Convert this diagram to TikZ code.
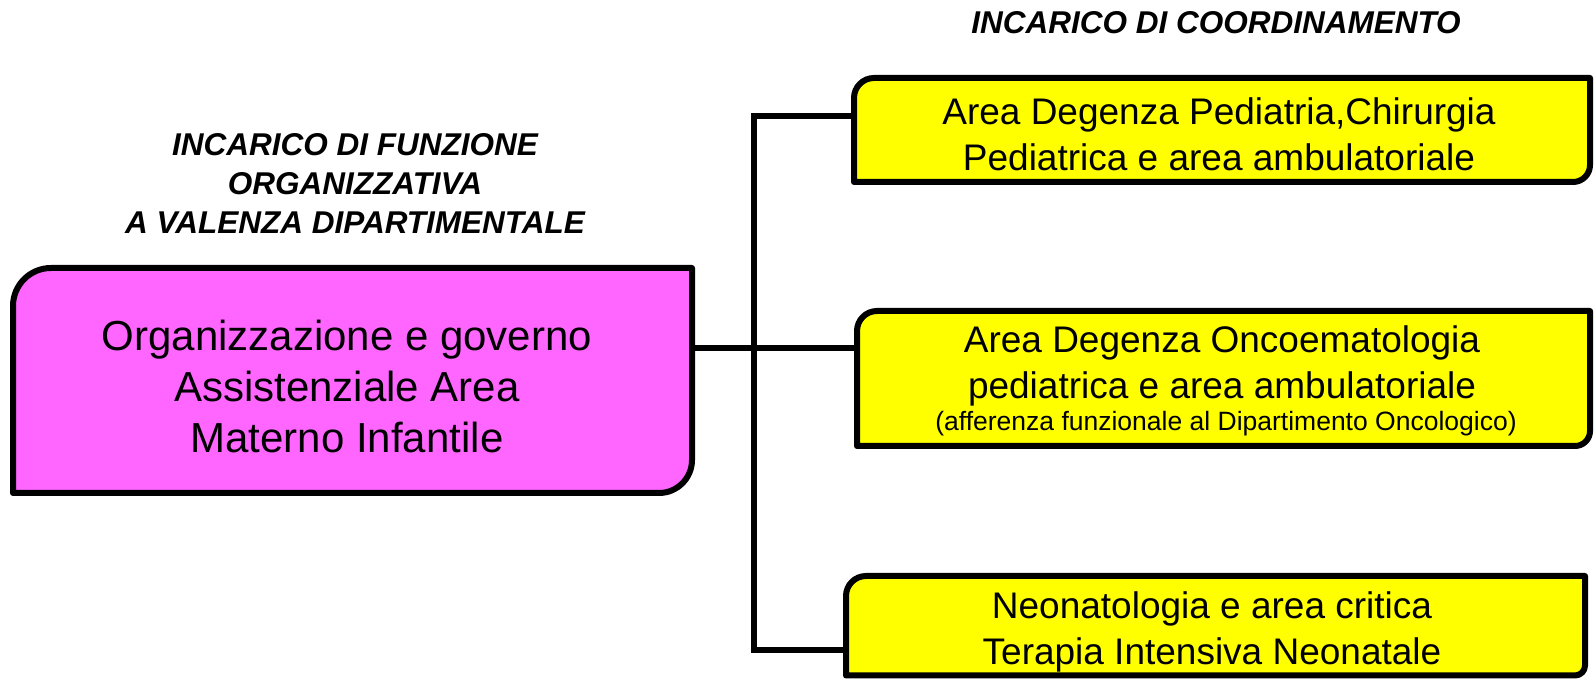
\documentclass[tikz,border=0pt]{standalone}
\usepackage{fontspec}
\setmainfont{Liberation Sans}
\definecolor{pinkbox}{HTML}{FF66FF}
\definecolor{yellowbox}{HTML}{FFFF00}
\begin{document}
\begin{tikzpicture}[x=1pt,y=1pt,
  boxshape/.style={draw=none,inner sep=0pt,outer sep=0pt},
  outline/.style={line width=6pt,draw=black,line join=round},
  connector/.style={line width=6pt,draw=black,line join=miter},
  bigtext/.style={align=center,font=\fontsize{42}{51}\selectfont,inner sep=0pt},
  midtext/.style={align=center,font=\fontsize{37}{46}\selectfont,inner sep=0pt},
  smalltext/.style={font=\fontsize{26.5}{30}\selectfont,inner sep=0pt},
  titletext/.style={align=center,font=\fontsize{31.5}{39}\selectfont\bfseries\itshape,inner sep=0pt}]
\useasboundingbox (0,0) rectangle (1594,679);
% box nodes
\node[boxshape,minimum width=679pt,minimum height=225pt] (pink) at (352.5,298.5) {};
\node[boxshape,minimum width=736pt,minimum height=104pt] (b1) at (1222,549) {};
\node[boxshape,minimum width=733pt,minimum height=135pt] (b2) at (1223.5,300.5) {};
\node[boxshape,minimum width=739pt,minimum height=99.5pt] (b3) at (1215.5,53.25) {};
% outlines
\draw[outline,fill=pinkbox] (pink.south west) -- ([yshift=-38pt]pink.north west) arc[start angle=180,end angle=90,radius=38pt] -- (pink.north east) -- ([yshift=33pt]pink.south east) arc[start angle=0,end angle=-90,radius=33pt] -- cycle;
\draw[outline,fill=yellowbox] (b1.south west) -- ([yshift=-20pt]b1.north west) arc[start angle=180,end angle=90,radius=20pt] -- (b1.north east) -- ([yshift=17pt]b1.south east) arc[start angle=0,end angle=-90,radius=17pt] -- cycle;
\draw[outline,fill=yellowbox] (b2.south west) -- ([yshift=-20pt]b2.north west) arc[start angle=180,end angle=90,radius=20pt] -- (b2.north east) -- ([yshift=15pt]b2.south east) arc[start angle=0,end angle=-90,radius=15pt] -- cycle;
\draw[outline,fill=yellowbox] (b3.south west) -- ([yshift=-20pt]b3.north west) arc[start angle=180,end angle=90,radius=20pt] -- (b3.north east) -- ([yshift=10pt]b3.south east) arc[start angle=0,end angle=-90,radius=10pt] -- cycle;
% texts
\node[bigtext] (pinktext) at (347,293) {Organizzazione e governo\\Assistenziale Area\\ Materno Infantile};
\node[midtext] (b1text) at (1219,545) {Area Degenza Pediatria,Chirurgia\\ Pediatrica e area ambulatoriale};
\node[midtext] (b2text) at (1222,313) {Area Degenza Oncoematologia\\ pediatrica e area ambulatoriale};
\node[smalltext] (b2note) at (1226,255) {(afferenza funzionale al Dipartimento Oncologico)};
\node[midtext] (b3text) at (1212,47) {Neonatologia e area critica\\ Terapia Intensiva Neonatale};
\node[titletext] (t1) at (355,495) {INCARICO DI FUNZIONE\\ORGANIZZATIVA\\A VALENZA DIPARTIMENTALE};
\node[titletext] (t2) at (1216,656.6) {INCARICO DI COORDINAMENTO};
% connectors
\coordinate (bt) at (754,563);
\coordinate (bb) at (754,29);
\coordinate (bm) at (754,331);
\draw[connector] (b1.west |- bt) -- (bt) -- (bb) -- (b3.west |- bb);
\draw[connector] (pink.east |- bm) -- (b2.west |- bm);
\end{tikzpicture}
\end{document}
